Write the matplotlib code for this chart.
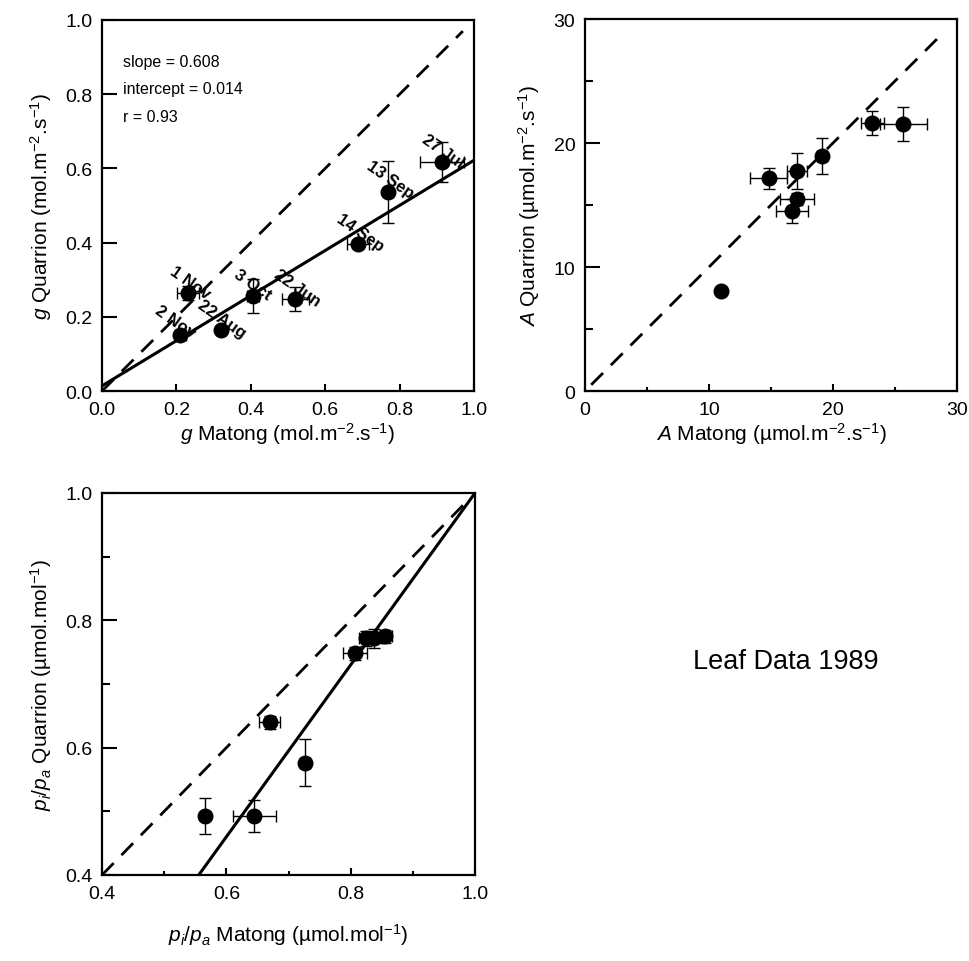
import matplotlib
matplotlib.use("Agg")
import matplotlib.pyplot as plt
import numpy as np
from matplotlib.ticker import MultipleLocator

plt.rcParams['font.family'] = ['Liberation Sans', 'DejaVu Sans']
plt.rcParams['mathtext.fontset'] = 'custom'
plt.rcParams['mathtext.rm'] = 'Liberation Sans'
plt.rcParams['mathtext.it'] = 'Liberation Sans:italic'
plt.rcParams['mathtext.bf'] = 'Liberation Sans:bold'

# ---- Panel 1: conductance g ----
g_dates = ["2 Nov", "22 Aug", "1 Nov", "3 Oct", "22 Jun", "14 Sep", "13 Sep", "27 Jul"]
g_matong = [0.21, 0.32, 0.231, 0.406, 0.519, 0.688, 0.769, 0.914]
g_quarrion = [0.151, 0.164, 0.264, 0.256, 0.248, 0.396, 0.537, 0.617]
g_xerr = [0.015, 0.0, 0.03, 0.015, 0.036, 0.03, 0.0, 0.059]
g_yerr = [0.01, 0.0, 0.02, 0.045, 0.032, 0.01, 0.083, 0.055]
g_label_x = [0.196, 0.323, 0.237, 0.406, 0.524, 0.694, 0.774, 0.917]
g_label_y = [0.189, 0.194, 0.294, 0.288, 0.280, 0.429, 0.571, 0.647]
g_slope = 0.608
g_intercept = 0.014
g_r = 0.93

# ---- Panel 2: assimilation A ----
a_matong = [11.0, 14.8, 17.07, 17.12, 16.72, 19.09, 23.17, 25.67]
a_quarrion = [8.04, 17.15, 17.77, 15.48, 14.52, 18.98, 21.59, 21.5]
a_xerr = [0.3, 1.48, 0.8, 1.37, 1.3, 0.4, 0.94, 1.88]
a_yerr = [0.1, 0.83, 1.44, 0.5, 1.0, 1.45, 0.97, 1.37]

# ---- Panel 3: pi/pa ----
p_matong = [0.565, 0.645, 0.727, 0.670, 0.807, 0.825, 0.838, 0.855]
p_quarrion = [0.493, 0.493, 0.576, 0.640, 0.748, 0.772, 0.772, 0.775]
p_xerr = [0.005, 0.035, 0.008, 0.017, 0.02, 0.012, 0.012, 0.012]
p_yerr = [0.028, 0.025, 0.037, 0.01, 0.01, 0.012, 0.015, 0.01]
p_slope = 1.35
p_intercept = -0.35

fig = plt.figure(figsize=(9.70, 9.62), dpi=100)
ax1 = fig.add_axes([0.1052, 0.5925, 0.3835, 0.3857])
ax2 = fig.add_axes([0.6031, 0.5925, 0.3835, 0.3867])
ax3 = fig.add_axes([0.1052, 0.0894, 0.3845, 0.3971])

TICK_FS = 14
LAB_FS = 15
for ax in (ax1, ax2, ax3):
    for s in ax.spines.values():
        s.set_linewidth(1.6)
    ax.tick_params(which='both', direction='in', top=False, right=False,
                   labelsize=TICK_FS, width=1.5, pad=7)
    ax.tick_params(which='major', length=11)
    ax.tick_params(which='minor', length=6)

eb_kw = dict(fmt='o', color='black', ms=10.5, elinewidth=1.0, capsize=4, capthick=1.0, zorder=4)
dash = (0, (6, 4))

# Panel 1
xx = np.array([0.0, 1.0])
ax1.plot([0.0, 0.97], [0.0, 0.97], color='black', lw=2.0, linestyle=dash, zorder=2)
ax1.plot(xx, g_intercept + g_slope * xx, color='black', lw=2.2, zorder=2)
ax1.errorbar(g_matong, g_quarrion, xerr=g_xerr, yerr=g_yerr, **eb_kw)
for lx, ly, t in zip(g_label_x, g_label_y, g_dates):
    ax1.text(lx, ly, t, rotation=-35, ha='center', va='center', fontsize=12,
             fontweight='bold', zorder=3, rotation_mode='anchor')
ax1.text(0.056, 0.887, f"slope = {g_slope:.3f}", fontsize=11.5, va='center')
ax1.text(0.056, 0.814, f"intercept = {g_intercept:.3f}", fontsize=11.5, va='center')
ax1.text(0.056, 0.741, f"r = {g_r:.2f}", fontsize=11.5, va='center')
ax1.set_xlim(0, 1)
ax1.set_ylim(0, 1)
ax1.xaxis.set_major_locator(MultipleLocator(0.2))
ax1.yaxis.set_major_locator(MultipleLocator(0.2))
ax1.tick_params(axis='x', which='major', length=5)
ax1.set_xticklabels([f"{v:.1f}" for v in ax1.get_xticks()])
ax1.set_yticklabels([f"{v:.1f}" for v in ax1.get_yticks()])
ax1.set_xlabel(r"$\it{g}$ Matong (mol.m$^{-2}$.s$^{-1}$)", fontsize=LAB_FS, labelpad=2)
ax1.set_ylabel(r"$\it{g}$ Quarrion (mol.m$^{-2}$.s$^{-1}$)", fontsize=LAB_FS, labelpad=8)

# Panel 2
ax2.plot([0.5, 29.0], [0.5, 29.0], color='black', lw=2.0, linestyle=dash, zorder=2)
ax2.errorbar(a_matong, a_quarrion, xerr=a_xerr, yerr=a_yerr, **eb_kw)
ax2.set_xlim(0, 30)
ax2.set_ylim(0, 30)
ax2.xaxis.set_major_locator(MultipleLocator(10))
ax2.yaxis.set_major_locator(MultipleLocator(10))
ax2.xaxis.set_minor_locator(MultipleLocator(5))
ax2.yaxis.set_minor_locator(MultipleLocator(5))
ax2.tick_params(axis='x', which='major', length=5)
ax2.tick_params(axis='x', which='minor', length=3)
ax2.set_xlabel(r"$\it{A}$ Matong (µmol.m$^{-2}$.s$^{-1}$)", fontsize=LAB_FS, labelpad=2)
ax2.set_ylabel(r"$\it{A}$ Quarrion (µmol.m$^{-2}$.s$^{-1}$)", fontsize=LAB_FS, labelpad=8)

# Panel 3
px = np.array([0.4, 1.0])
ax3.plot([0.4, 0.99], [0.4, 0.99], color='black', lw=2.0, linestyle=dash, zorder=2)
ax3.plot(px, p_intercept + p_slope * px, color='black', lw=2.2, zorder=2)
ax3.errorbar(p_matong, p_quarrion, xerr=p_xerr, yerr=p_yerr, **eb_kw)
ax3.set_xlim(0.4, 1.0)
ax3.set_ylim(0.4, 1.0)
ax3.xaxis.set_major_locator(MultipleLocator(0.2))
ax3.yaxis.set_major_locator(MultipleLocator(0.2))
ax3.xaxis.set_minor_locator(MultipleLocator(0.1))
ax3.yaxis.set_minor_locator(MultipleLocator(0.1))
ax3.tick_params(axis='x', which='major', length=5)
ax3.tick_params(axis='x', which='minor', length=3)
ax3.set_xticklabels([f"{v:.1f}" for v in ax3.get_xticks()])
ax3.set_yticklabels([f"{v:.1f}" for v in ax3.get_yticks()])
ax3.set_xlabel(r"$\it{p_i/p_a}$ Matong (µmol.mol$^{-1}$)", fontsize=LAB_FS, labelpad=14)
ax3.set_ylabel(r"$\it{p_i/p_a}$ Quarrion (µmol.mol$^{-1}$)", fontsize=LAB_FS, labelpad=8)

fig.text(0.81, 0.312, "Leaf Data 1989", fontsize=19.5, ha='center', va='center')

fig.savefig("out.png", dpi=100)
